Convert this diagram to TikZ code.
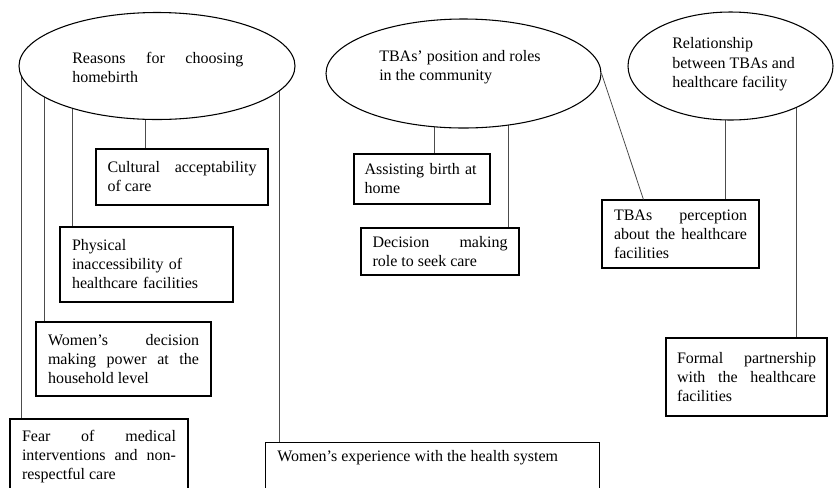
\documentclass[tikz,border=0pt]{standalone}
\usepackage{fontspec}
\setmainfont{Liberation Serif}
\usetikzlibrary{shapes.geometric,calc,backgrounds}
\tikzset{
  oval/.style={draw=black, line width=0.8pt, ellipse, fill=white, inner sep=0pt},
  box/.style={draw=black, line width=0.8pt, rectangle, inner sep=0pt,
    font=\fontsize{12pt}{14.25pt}\selectfont},
  txt/.style={inner sep=0pt, font=\fontsize{12pt}{14.5pt}\selectfont},
  conn/.style={draw=black!70, line width=0.6pt},
}
\begin{document}
\begin{tikzpicture}[x=0.75pt,y=-0.75pt]
\useasboundingbox (0,0) rectangle (834,487);
\clip (0,0) rectangle (834,487);
% ellipses
\node[oval, minimum width=207pt, minimum height=80.25pt] (e1) at (157,66) {};
\node[oval, minimum width=206.25pt, minimum height=81.75pt] (e2) at (463.5,73.5) {};
\node[oval, minimum width=153.75pt, minimum height=81pt] (e3) at (730.5,66) {};
\node[txt, anchor=north west, text width=128.25pt, align=justify] (e1t) at (72,52)
  {Reasons for choosing\linebreak homebirth};
\node[txt, anchor=north west, align=left] (e2t) at (379,50)
  {TBAs’ position and roles\\in the community};
\node[txt, anchor=north west, align=left] (e3t) at (672,37.5)
  {Relationship\\between TBAs and\\healthcare facility};
% boxes
\node[box, minimum width=129pt, minimum height=42pt, text width=111.75pt, align=justify] (c1) at (182,177)
  {Cultural acceptability\linebreak of care};
\node[box, minimum width=129.75pt, minimum height=56.25pt, text width=111.75pt, align=left] (c2) at (146.5,264.5)
  {Physical\\inaccessibility of\\healthcare facilities};
\node[box, minimum width=131.25pt, minimum height=55.5pt, text width=113.25pt, align=justify] (c3) at (123.5,359)
  {Women’s decision\linebreak making power at the\linebreak household level};
\node[box, minimum width=133.5pt, minimum height=56.25pt, text width=115.5pt, align=justify] (c4) at (99,456.5)
  {Fear of medical\linebreak interventions and non-\linebreak respectful care};
\node[box, anchor=north west, minimum width=250.5pt, minimum height=52.5pt] (we) at (265,442) {};
\node[txt, anchor=base west] (wet) at (277,461) {Women’s experience with the health system};
\node[box, minimum width=102pt, minimum height=37.5pt, text width=86pt, align=left] (a) at (422,179)
  {Assisting birth at\\home};
\node[box, minimum width=118.5pt, minimum height=35.25pt, text width=101.25pt, align=justify] (d) at (440,251.5)
  {Decision making\linebreak role to seek care};
\node[box, minimum width=117.75pt, minimum height=51pt, text width=99.75pt, align=justify] (p) at (680.5,234)
  {TBAs perception\linebreak about the healthcare\linebreak facilities};
\node[box, minimum width=120.75pt, minimum height=58.5pt, text width=104.25pt, align=justify] (f) at (746.5,377)
  {Formal partnership\linebreak with the healthcare\linebreak facilities};
% connectors
\begin{pgfonlayer}{background}
\draw[conn] ($(c1.north west)+(50,0)$) coordinate (k1) -- (k1 |- e1.center);
\draw[conn] ($(c2.north west)+(13,0)$) coordinate (k2) -- (k2 |- e1.center);
\draw[conn] ($(c3.north west)+(9,0)$) coordinate (k3) -- (k3 |- e1.center);
\draw[conn] ($(c4.north west)+(12,0)$) coordinate (k4) -- (k4 |- e1.center);
\draw[conn] ($(we.north west)+(14,0)$) coordinate (k5) -- (k5 |- e1.center);
\draw[conn] ($(a.north west)+(81,0)$) coordinate (k6) -- (k6 |- e2.center);
\draw[conn] ($(d.north west)+(148,0)$) coordinate (k7) -- (k7 |- e2.center);
\draw[conn] ($(p.north west)+(124,0)$) coordinate (k9) -- (k9 |- e3.center);
\draw[conn] ($(f.north west)+(131,0)$) coordinate (k10) -- (k10 |- e3.center);
\end{pgfonlayer}
\draw[conn] (e2.east) -- ($(p.north west)+(42,0)$);
\end{tikzpicture}
\end{document}
